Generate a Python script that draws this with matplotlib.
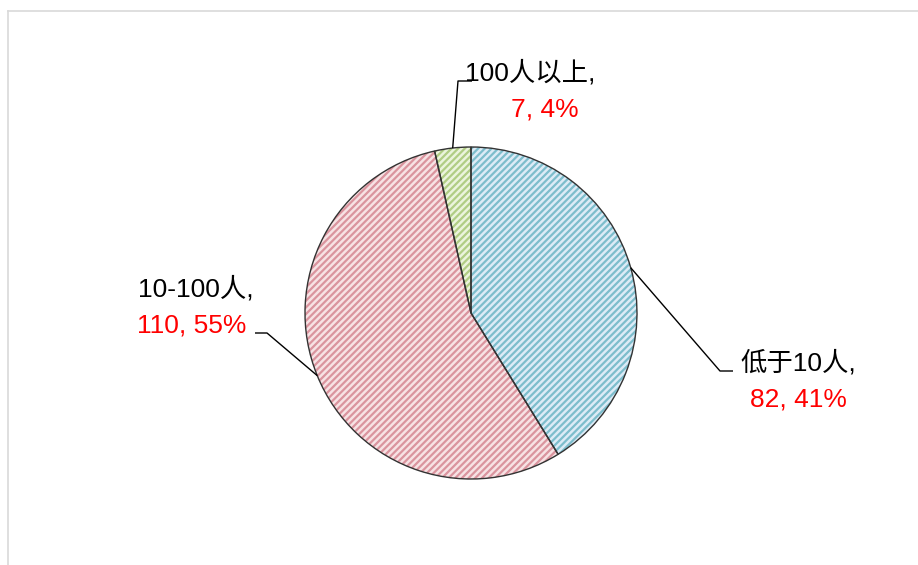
import matplotlib
matplotlib.use("Agg")
import matplotlib.pyplot as plt
import numpy as np
from matplotlib.lines import Line2D

plt.rcParams['font.family'] = ['Liberation Sans', 'Noto Sans CJK SC']
plt.rcParams['hatch.linewidth'] = 1.6

# group size counts
groups = ['低于10人', '10-100人', '100人以上']
counts = [82, 110, 7]
face_colors = ['#dcebf6', '#f7e2e4', '#ebf4dc']
hatch_colors = ['#7dbdcc', '#da949e', '#b0cd84']

# label placement: line1 (x, baseline y), line2 (x, baseline y), leader elbow, leader end
label_pos = [
    ((798, 370), (798, 407), (720, 371), (733, 371)),
    ((196, 296), (192, 333), (267, 333), (255, 333)),
    ((530, 80), (545, 117), (458, 81), (472, 81)),
]

W, H = 918, 565
fig = plt.figure(figsize=(W / 100, H / 100), dpi=100)
ax = fig.add_axes([0, 0, 1, 1])

cx, cy, r = 471, H - 313, 166
total = sum(counts)
pct = [round(c / total * 100) for c in counts]

# hatched fill first, outlines drawn on top
wedges, _ = ax.pie(counts, colors=face_colors, startangle=90, counterclock=False,
                   center=(cx, cy), radius=r, frame=True,
                   wedgeprops=dict(linewidth=0, hatch='/////'))
for w, hc in zip(wedges, hatch_colors):
    w.set_edgecolor(hc)
ax.pie(counts, colors=['none'] * 3, startangle=90, counterclock=False,
       center=(cx, cy), radius=r, frame=True,
       wedgeprops=dict(linewidth=1.0, edgecolor='#333333'))
ax.set_xlim(0, W)
ax.set_ylim(0, H)
ax.set_aspect('equal')
ax.axis('off')

for w, name, c, p, (l1, l2, elbow, end) in zip(wedges, groups, counts, pct, label_pos):
    mid = np.deg2rad((w.theta1 + w.theta2) / 2)
    sx, sy = cx + r * np.cos(mid), cy + r * np.sin(mid)
    ax.plot([sx, elbow[0], end[0]], [sy, H - elbow[1], H - end[1]],
            color='black', lw=1.0, solid_capstyle='butt')
    ax.text(l1[0], H - l1[1], f'{name},', ha='center', va='baseline',
            fontsize=19, color='black')
    ax.text(l2[0], H - l2[1], f'{c}, {p}%', ha='center', va='baseline',
            fontsize=19, color='#ff0000')

# chart area border (only left and top edges fall inside the image)
fig.add_artist(Line2D([8 / W, 8 / W], [0, 1 - 11 / H], transform=fig.transFigure,
                      color='#d9d9d9', lw=1.2))
fig.add_artist(Line2D([8 / W, 1], [1 - 11 / H, 1 - 11 / H], transform=fig.transFigure,
                      color='#d9d9d9', lw=1.2))

fig.savefig('out.png', dpi=100)
